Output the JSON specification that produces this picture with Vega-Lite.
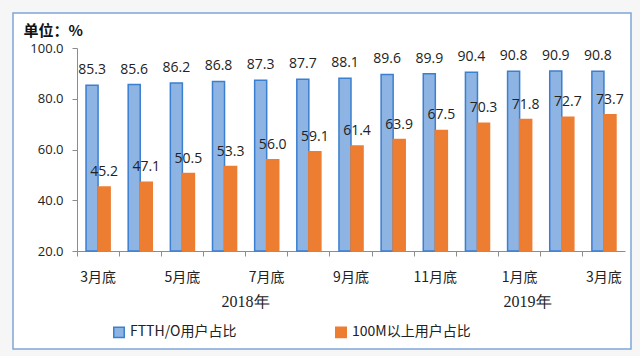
{
  "$schema": "https://vega.github.io/schema/vega-lite/v6.json",
  "autosize": "none",
  "width": 618,
  "height": 336,
  "padding": {"left": 13, "top": 13, "right": 9, "bottom": 7},
  "background": "#f6f6f6",
  "config": {
    "view": {"fill": "white", "stroke": "#7fa7d9", "strokeWidth": 1.5},
    "font": "Noto Sans CJK SC"
  },
  "datasets": {
    "bars": [
      {"month": "2018-03", "series": "FTTH/O用户占比", "value": 85.3},
      {"month": "2018-04", "series": "FTTH/O用户占比", "value": 85.6},
      {"month": "2018-05", "series": "FTTH/O用户占比", "value": 86.2},
      {"month": "2018-06", "series": "FTTH/O用户占比", "value": 86.8},
      {"month": "2018-07", "series": "FTTH/O用户占比", "value": 87.3},
      {"month": "2018-08", "series": "FTTH/O用户占比", "value": 87.7},
      {"month": "2018-09", "series": "FTTH/O用户占比", "value": 88.1},
      {"month": "2018-10", "series": "FTTH/O用户占比", "value": 89.6},
      {"month": "2018-11", "series": "FTTH/O用户占比", "value": 89.9},
      {"month": "2018-12", "series": "FTTH/O用户占比", "value": 90.4},
      {"month": "2019-01", "series": "FTTH/O用户占比", "value": 90.8},
      {"month": "2019-02", "series": "FTTH/O用户占比", "value": 90.9},
      {"month": "2019-03", "series": "FTTH/O用户占比", "value": 90.8},
      {"month": "2018-03", "series": "100M以上用户占比", "value": 45.2},
      {"month": "2018-04", "series": "100M以上用户占比", "value": 47.1},
      {"month": "2018-05", "series": "100M以上用户占比", "value": 50.5},
      {"month": "2018-06", "series": "100M以上用户占比", "value": 53.3},
      {"month": "2018-07", "series": "100M以上用户占比", "value": 56.0},
      {"month": "2018-08", "series": "100M以上用户占比", "value": 59.1},
      {"month": "2018-09", "series": "100M以上用户占比", "value": 61.4},
      {"month": "2018-10", "series": "100M以上用户占比", "value": 63.9},
      {"month": "2018-11", "series": "100M以上用户占比", "value": 67.5},
      {"month": "2018-12", "series": "100M以上用户占比", "value": 70.3},
      {"month": "2019-01", "series": "100M以上用户占比", "value": 71.8},
      {"month": "2019-02", "series": "100M以上用户占比", "value": 72.7},
      {"month": "2019-03", "series": "100M以上用户占比", "value": 73.7}
    ],
    "y2018": [{"year": "2018年", "month": "2018-06"}],
    "y2019": [{"year": "2019年", "month": "2019-01"}]
  },
  "encoding": {
    "x": {
      "field": "month", "type": "ordinal", "sort": null,
      "scale": {"range": [64, 612], "paddingInner": 0, "paddingOuter": 0},
      "axis": {
        "title": null, "offset": -98, "bandPosition": 0, "labelOffset": 0,
        "labelAngle": 0, "labelFontSize": 14, "labelColor": "#222",
        "labelPadding": 14, "tickSize": 5, "tickColor": "#8c8c8c", "domainColor": "#8c8c8c",
        "labelExpr": "indexof(['2018-03','2018-05','2018-07','2018-09','2018-11','2019-01','2019-03'], datum.value) >= 0 ? (toNumber(substring(datum.value,5,7)) + '月底') : ''"
      }
    },
    "y": {
      "type": "quantitative",
      "scale": {"domain": [20, 100], "range": [238, 35], "nice": false, "zero": false},
      "axis": {
        "offset": -64, "values": [20, 40, 60, 80, 100], "format": ".1f",
        "grid": false, "labelFontSize": 13, "labelColor": "#222", "labelFont": "Open Sans",
        "labelPadding": 9, "tickSize": 5, "tickColor": "#8c8c8c", "domainColor": "#8c8c8c",
        "title": "单位：%", "titleAngle": 0, "titleAlign": "left", "titleBaseline": "middle",
        "titleX": -54, "titleY": 17, "titleFontSize": 15, "titleFontWeight": "bold", "titleColor": "#111"
      }
    }
  },
  "layer": [
    {
      "data": {"name": "bars"},
      "mark": {"type": "bar", "strokeWidth": 1.5, "clip": false},
      "encoding": {
        "y": {"field": "value", "type": "quantitative"},
        "y2": {"datum": 20},
        "xOffset": {
          "field": "series", "type": "nominal",
          "sort": ["FTTH/O用户占比", "100M以上用户占比"],
          "scale": {"paddingInner": 0, "paddingOuter": 0.75}
        },
        "fill": {
          "field": "series", "type": "nominal",
          "sort": ["FTTH/O用户占比", "100M以上用户占比"],
          "scale": {"domain": ["FTTH/O用户占比", "100M以上用户占比"], "range": ["#8db4e3", "#ed7d31"]},
          "legend": {
            "title": null, "orient": "none", "legendX": 99, "legendY": 312,
            "direction": "horizontal", "symbolType": "square", "symbolSize": 110,
            "labelFontSize": 14, "labelColor": "#222", "columnPadding": 95, "labelOffset": 4
          }
        },
        "stroke": {
          "field": "series", "type": "nominal",
          "sort": ["FTTH/O用户占比", "100M以上用户占比"],
          "scale": {"domain": ["FTTH/O用户占比", "100M以上用户占比"], "range": ["#3b7fd0", "#ed7d31"]},
          "legend": {
            "title": null, "orient": "none", "legendX": 99, "legendY": 312,
            "direction": "horizontal", "symbolType": "square", "symbolSize": 110,
            "labelFontSize": 14, "labelColor": "#222", "columnPadding": 95, "labelOffset": 4
          }
        }
      }
    },
    {
      "data": {"name": "bars"},
      "mark": {"type": "text", "baseline": "middle", "dy": -15, "fontSize": 14, "font": "Open Sans", "color": "#222"},
      "encoding": {
        "y": {"field": "value", "type": "quantitative"},
        "xOffset": {
          "field": "series", "type": "nominal",
          "sort": ["FTTH/O用户占比", "100M以上用户占比"],
          "scale": {"paddingInner": 0, "paddingOuter": 0.75}
        },
        "text": {"field": "value", "type": "quantitative", "format": ".1f"}
      }
    },
    {
      "data": {"name": "y2018"},
      "mark": {"type": "text", "font": "Liberation Serif", "fontSize": 16, "color": "#222", "baseline": "middle", "dx": 21, "clip": false},
      "encoding": {
        "y": {"datum": 0, "type": "quantitative"},
        "text": {"field": "year", "type": "nominal"}
      }
    },
    {
      "data": {"name": "y2019"},
      "mark": {"type": "text", "font": "Liberation Serif", "fontSize": 16, "color": "#222", "baseline": "middle", "dx": 8, "clip": false},
      "encoding": {
        "y": {"datum": 0, "type": "quantitative"},
        "text": {"field": "year", "type": "nominal"}
      }
    }
  ]
}
